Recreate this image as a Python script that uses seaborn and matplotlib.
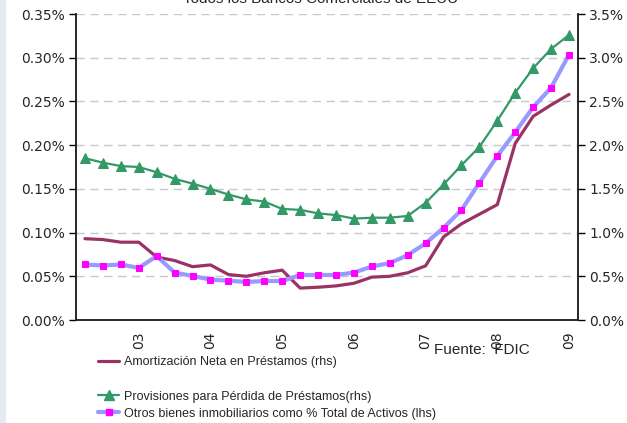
import pandas as pd
import seaborn as sns
import matplotlib.pyplot as plt
from matplotlib.lines import Line2D
from matplotlib.patches import Rectangle
from matplotlib.ticker import FuncFormatter

# Datos trimestrales (2002 T2 - 2009 T1)
trimestres = ['2002T2', '2002T3', '2002T4', '2003T1', '2003T2', '2003T3', '2003T4',
              '2004T1', '2004T2', '2004T3', '2004T4', '2005T1', '2005T2', '2005T3',
              '2005T4', '2006T1', '2006T2', '2006T3', '2006T4', '2007T1', '2007T2',
              '2007T3', '2007T4', '2008T1', '2008T2', '2008T3', '2008T4', '2009T1']

# Amortizacion neta en prestamos (eje derecho, %)
amortizacion = [0.93, 0.92, 0.89, 0.89, 0.72, 0.68, 0.61, 0.63, 0.52, 0.50,
                0.54, 0.57, 0.365, 0.375, 0.39, 0.42, 0.49, 0.50, 0.54, 0.62,
                0.95, 1.10, 1.21, 1.32, 2.02, 2.33, 2.46, 2.58]

# Provisiones para perdida de prestamos (eje derecho, %)
provisiones = [1.85, 1.80, 1.76, 1.75, 1.69, 1.615, 1.56, 1.50, 1.435, 1.38,
               1.355, 1.27, 1.26, 1.22, 1.20, 1.16, 1.17, 1.17, 1.19, 1.34,
               1.55, 1.77, 1.98, 2.28, 2.60, 2.88, 3.10, 3.26]

# Otros bienes inmobiliarios como % total de activos (eje izquierdo, %)
otros = [0.0635, 0.0623, 0.0635, 0.0596, 0.0731, 0.0542, 0.0504, 0.0462, 0.045,
         0.0435, 0.0446, 0.0446, 0.0515, 0.0515, 0.0515, 0.0542, 0.0612, 0.065,
         0.0742, 0.0877, 0.1054, 0.1258, 0.1569, 0.1877, 0.2148, 0.2434, 0.2658,
         0.3035]

anios = ['03', '04', '05', '06', '07', '08', '09']

etiquetas = ['Amortización Neta en Préstamos (rhs)',
             'Provisiones para Pérdida de Préstamos(rhs)',
             'Otros bienes inmobiliarios como % Total de Activos (lhs)']

df = pd.DataFrame({'trimestre': trimestres, 'amortizacion': amortizacion,
                   'provisiones': provisiones, 'otros': otros})
df['pos'] = range(len(df))

sns.set_style('white')
plt.rcParams['font.family'] = ['DejaVu Sans']

verde = '#339966'
morado = '#993366'
azul = '#9999FF'
magenta = '#FF00FF'

fig = plt.figure(figsize=(6.27, 4.23), dpi=100)
ax = fig.add_axes([76 / 627, 1 - 320 / 423, (578 - 76) / 627, (320 - 14) / 423])
ax2 = ax.twinx()

# eje derecho
sns.lineplot(data=df, x='pos', y='amortizacion', ax=ax2, color=morado, lw=2.3, legend=False)
sns.lineplot(data=df, x='pos', y='provisiones', ax=ax2, color=verde, lw=1.6,
             marker='^', markersize=7.5, markeredgecolor=verde, markerfacecolor=verde,
             legend=False)
# eje izquierdo
sns.lineplot(data=df, x='pos', y='otros', ax=ax, color=azul, lw=3,
             marker='s', markersize=4, markeredgecolor=magenta, markerfacecolor=magenta,
             legend=False)

ax.set_zorder(ax2.get_zorder() + 1)
ax.patch.set_visible(False)

ax.set_xlim(-0.5, len(df) - 0.5)
ax.set_ylim(0, 0.35)
ax2.set_ylim(0, 3.5)
ax.set_yticks([i * 0.05 for i in range(8)])
ax2.set_yticks([i * 0.5 for i in range(8)])
ax.yaxis.set_major_formatter(FuncFormatter(lambda v, p: f'{v:.2f}%'))
ax2.yaxis.set_major_formatter(FuncFormatter(lambda v, p: f'{v:.1f}%'))

ax2.yaxis.grid(True, color='#C8C8C8', lw=1, linestyle=(0, (6, 4)))
ax2.set_axisbelow(True)

pos_anios = [df['pos'][df['trimestre'] == '20' + a + 'T1'].iloc[0] for a in anios]
ax.set_xticks(pos_anios)
ax.set_xticklabels(anios, rotation=90)
ax.set_xticks([p - 0.5 for p in range(len(df) + 1)], minor=True)
ax.tick_params(axis='x', which='major', length=0, pad=8, labelsize=10)
ax.tick_params(axis='x', which='minor', length=6, width=1, direction='out', color='black')
ax.tick_params(axis='y', length=5, width=1, direction='out', labelsize=10, pad=3, color='black')
ax2.tick_params(axis='y', length=5, width=1, direction='out', labelsize=10, pad=3, color='black')
ax2.tick_params(axis='x', which='both', length=0, labelbottom=False)

ax.set_xlabel('')
ax.set_ylabel('')
ax2.set_ylabel('')
for a in (ax, ax2):
    a.spines['top'].set_visible(False)
    for s in ('left', 'right', 'bottom'):
        a.spines[s].set_color('#222222')
        a.spines[s].set_linewidth(1.1)

fig.text(321 / 627, 1 - 3 / 423, 'Todos los Bancos Comerciales de EEUU',
         ha='center', va='baseline', fontsize=11, family=['Liberation Sans'])
fig.text(434 / 627, 1 - 350 / 423, 'Fuente:  FDIC', ha='left', va='center',
         fontsize=11, family=['Liberation Sans'])

handles = [Line2D([], [], color=morado, lw=2.3),
           Line2D([], [], color='none'),
           Line2D([], [], color=verde, lw=1.6, marker='^', markersize=7,
                  markerfacecolor=verde, markeredgecolor=verde),
           Line2D([], [], color=azul, lw=3, marker='s', markersize=4,
                  markerfacecolor=magenta, markeredgecolor=magenta)]
labels = [etiquetas[0], ' ', etiquetas[1], etiquetas[2]]
fig.legend(handles, labels, loc='upper left', bbox_to_anchor=(98 / 627, 1 - 356 / 423),
           frameon=False, handlelength=1.7, handletextpad=0.35, labelspacing=0.42,
           prop={'family': 'Liberation Sans', 'size': 9}, borderaxespad=0, borderpad=0)

# franja lateral izquierda
fig.patches.append(Rectangle((0, 0), 5 / 627, 1, transform=fig.transFigure,
                             color='#E3EBF2', zorder=0))

fig.savefig('out.png', dpi=100)
